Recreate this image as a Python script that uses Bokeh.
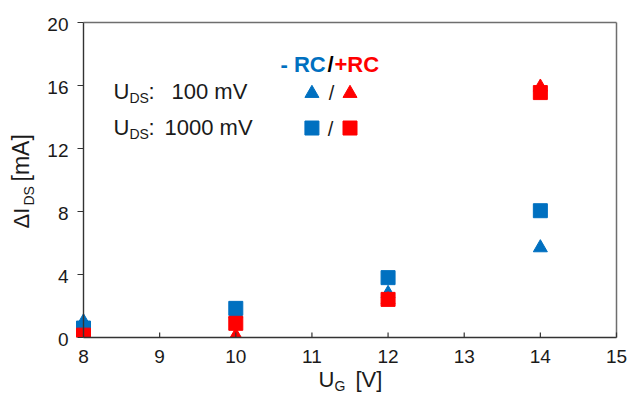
import math
from bokeh.plotting import figure
from bokeh.models import Range1d, Label
from bokeh.core.properties import value
from bokeh.embed import file_html
from bokeh.resources import INLINE

# ---------------- data ----------------
gate_voltage = [8, 10, 12, 14]
minus_rc_100mv = [1.0, 1.5, 2.8, 5.7]     # blue triangles
plus_rc_100mv = [0.3, 0.1, 2.4, 15.9]     # red triangles
minus_rc_1000mv = [0.6, 1.85, 3.8, 8.05]  # blue squares
plus_rc_1000mv = [0.15, 0.9, 2.42, 15.55] # red squares

x_ticks = [8, 9, 10, 11, 12, 13, 14, 15]
y_ticks = [0, 4, 8, 12, 16, 20]

BLUE = "#0070C0"
RED = "#FF0000"
TEXT = "#1a1a1a"
AXIS = "#333333"
BOX = "#6e6e6e"
FONT = "Liberation Sans"

# ---------------- layout ----------------
W, H = 627, 396
# plot-area edges in canvas pixels
FL, FR, FT, FB = 83, 616, 22, 337
X_MIN, X_MAX = 8, 15
Y_MIN, Y_MAX = 0, 20
SX = (FR - FL) / (X_MAX - X_MIN)
SY = (FB - FT) / (Y_MAX - Y_MIN)


def dx(px):
    return X_MIN + (px - FL) / SX


def dy(py):
    return Y_MIN + (FB - py) / SY


p = figure(width=W, height=H, output_backend="svg", toolbar_location=None,
           x_range=Range1d(dx(0), dx(W)), y_range=Range1d(dy(H), dy(0)),
           x_axis_location=None, y_axis_location=None,
           min_border_left=0, min_border_right=0,
           min_border_top=0, min_border_bottom=0)
p.title.visible = False
p.outline_line_color = None
p.background_fill_color = "white"
p.border_fill_color = "white"
p.xgrid.visible = False
p.ygrid.visible = False

# ---------------- data markers ----------------
MS = 14
p.scatter(gate_voltage, minus_rc_100mv, marker="triangle", size=MS, color=BLUE)
p.scatter(gate_voltage, plus_rc_100mv, marker="triangle", size=MS, color=RED)
p.scatter(gate_voltage, minus_rc_1000mv, marker="square", size=MS, color=BLUE)
p.scatter(gate_voltage, plus_rc_1000mv, marker="square", size=MS, color=RED)

# plot-area clipping below the x axis
p.quad(left=[dx(0)], right=[dx(W)], bottom=[dy(H)], top=[Y_MIN],
       fill_color="white", line_color=None)

# ---------------- axes ----------------
# spines
p.segment(x0=[X_MIN], y0=[Y_MIN], x1=[X_MIN], y1=[Y_MAX], line_color=AXIS, line_width=1.4)
p.segment(x0=[X_MIN], y0=[Y_MIN], x1=[X_MAX], y1=[Y_MIN], line_color=AXIS, line_width=1.4)
p.segment(x0=[X_MIN, X_MAX], y0=[Y_MAX, Y_MIN], x1=[X_MAX, X_MAX], y1=[Y_MAX, Y_MAX],
          line_color=BOX, line_width=1.5)

# ticks: x inside (up 5px), y outside (left 6px)
p.segment(x0=x_ticks[1:], y0=[Y_MIN] * (len(x_ticks) - 1),
          x1=x_ticks[1:], y1=[dy(FB - 5)] * (len(x_ticks) - 1),
          line_color=AXIS, line_width=1.2)
p.segment(x0=[dx(FL - 6)] * len(y_ticks), y0=y_ticks,
          x1=[X_MIN] * len(y_ticks), y1=y_ticks,
          line_color=AXIS, line_width=1.2)

# tick labels
p.text(x=x_ticks, y=[dy(356)] * len(x_ticks), text=[str(t) for t in x_ticks],
       text_font=value(FONT), text_font_size=value("19px"), text_color=TEXT,
       text_align="center", text_baseline="middle")
p.text(x=[dx(68)] * len(y_ticks), y=[t - 1.5 / SY for t in y_ticks], text=[str(t) for t in y_ticks],
       text_font=value(FONT), text_font_size=value("19px"), text_color=TEXT,
       text_align="right", text_baseline="middle")

# ---------------- legend markers (in-plot) ----------------
p.scatter([11.0], [15.5], marker="triangle", size=MS, color=BLUE)
p.scatter([11.5], [15.5], marker="triangle", size=MS, color=RED)
p.scatter([11.0], [13.3], marker="square", size=MS, color=BLUE)
p.scatter([11.5], [13.3], marker="square", size=MS, color=RED)


def lab(text, px, py, size="22px", color=TEXT, style="normal", angle=0.0, align="left"):
    # px, py: left edge / vertical centre of the text in canvas pixels
    p.add_layout(Label(x=dx(px), y=dy(py), text=text, text_font=FONT,
                       text_font_size=size, text_color=color, text_font_style=style,
                       text_baseline="middle", text_align=align, angle=angle))


# legend header
lab("- RC", 280, 63.5, color=BLUE, style="bold")
lab("/", 327, 63.5, color="black", style="bold")
lab("+RC", 334, 63.5, color=RED, style="bold")

# legend rows
lab("U", 113, 90.5)
lab("DS", 129, 97.5, size="14px")
lab(":", 148, 90.5)
lab("100 mV", 171, 90.5)
lab("/", 331, 92, size="20px", align="center")

lab("U", 113, 126.5)
lab("DS", 129, 133.5, size="14px")
lab(":", 148, 126.5)
lab("1000 mV", 164, 126.5)
lab("/", 330, 128, size="20px", align="center")

# x axis title
lab("U", 318, 379)
lab("G", 334, 385, size="14px")
lab("[V]", 355, 379)

# y axis title (rotated)
A = math.pi / 2
lab("\u0394I", 20.5, 228, angle=A)
lab("DS", 28, 205, size="14px", angle=A)
lab("[mA]", 20.5, 181, size="23px", angle=A)

open("out.html", "w").write(file_html(p, INLINE))
